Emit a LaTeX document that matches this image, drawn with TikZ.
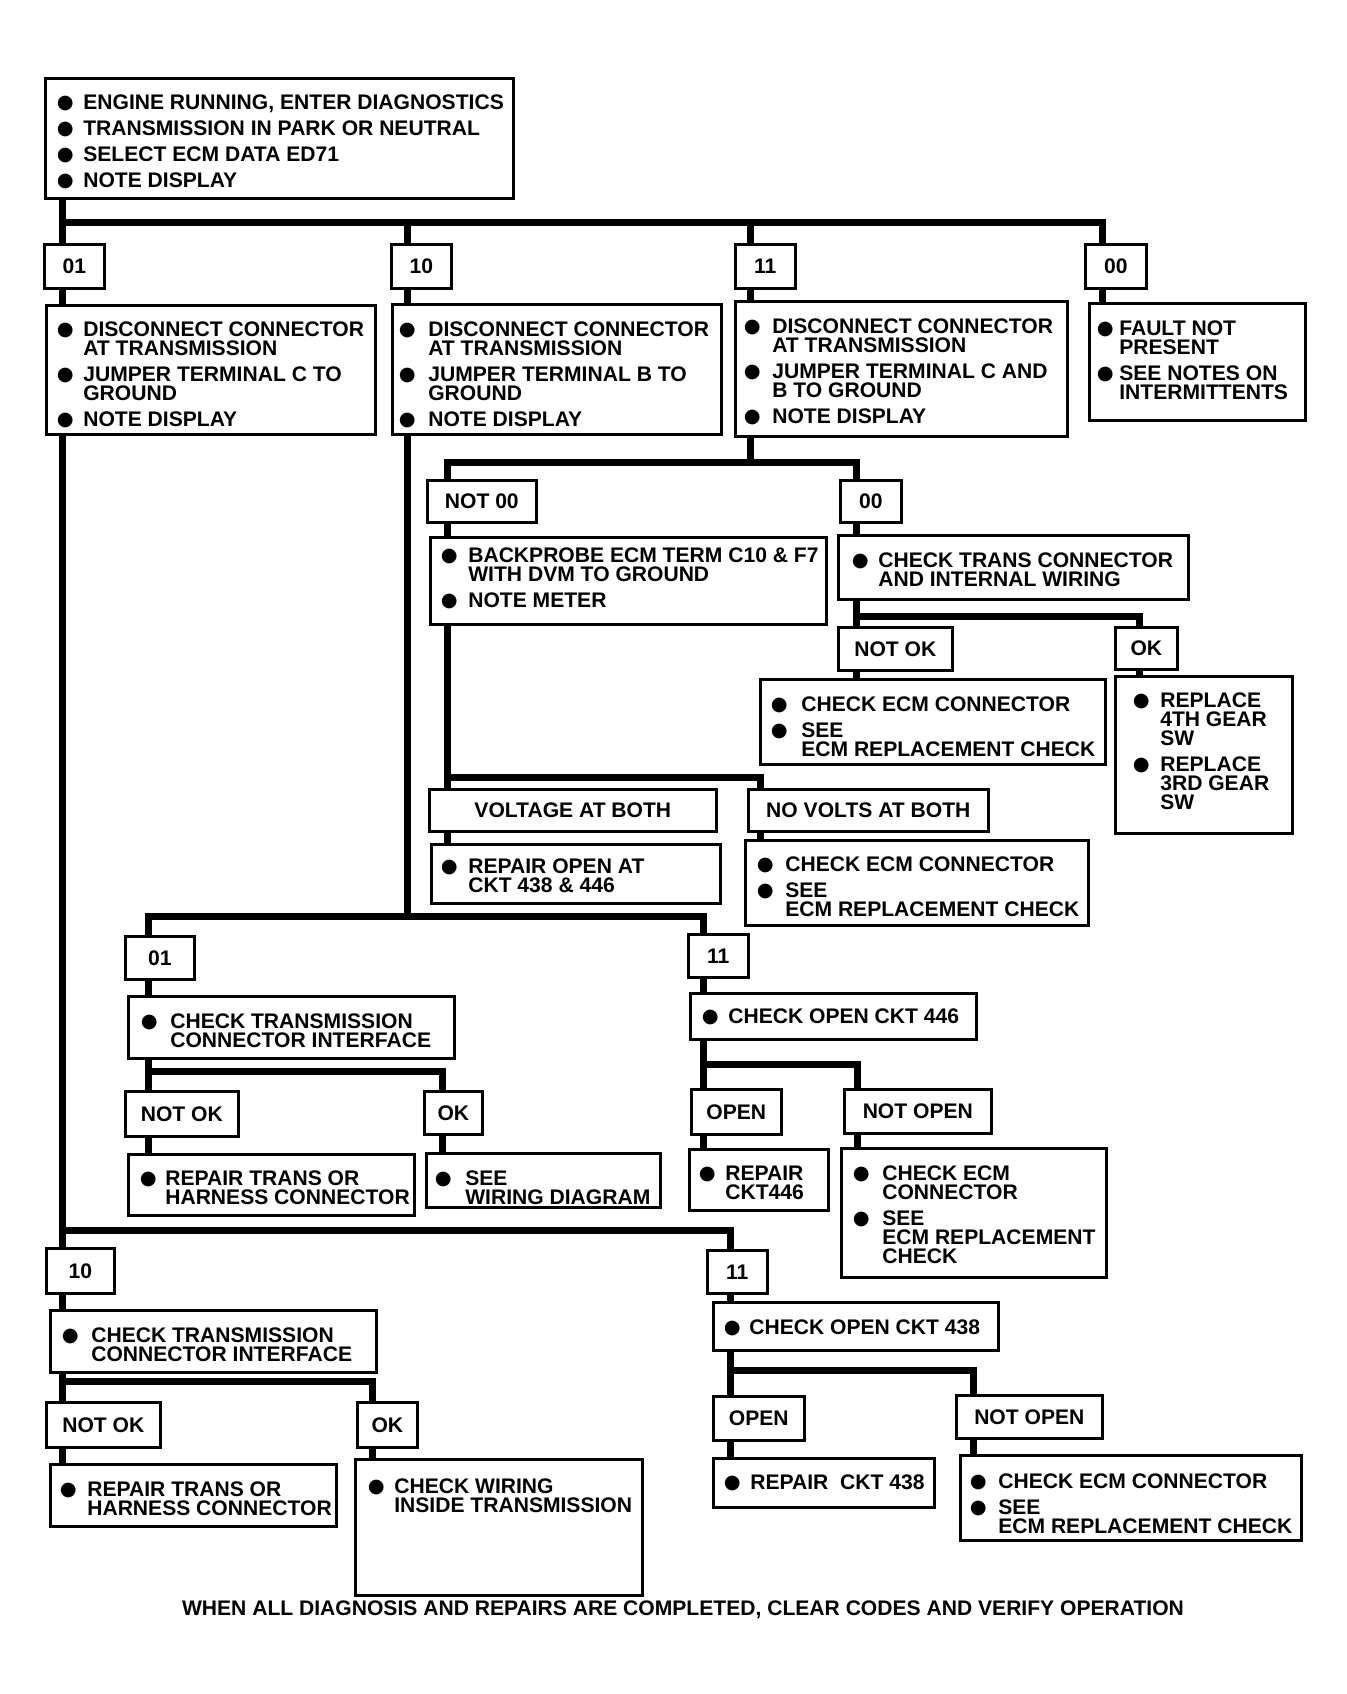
\documentclass[tikz,border=0pt]{standalone}
\usepackage{fontspec}
\setmainfont{Liberation Sans}
\newfontfamily\dejavu{DejaVu Sans}
\usetikzlibrary{backgrounds}
\newcommand\px[1]{\dimexpr0.02cm*#1\relax}
\newlength\bd
\newcommand\bul{\makebox[0pt]{\raisebox{0.4pt}{\dejavu\fontsize{11pt}{11pt}\selectfont ●}}}
\newcommand\bi{\par\vspace{\px{7}}\hangindent=\bd\hangafter=1\noindent\bul\hspace*{\bd}\ignorespaces}
\newcommand\bt[6]{\parbox[c][\px{#2}][t]{\px{#1}}{\fontsize{12pt}{0.38cm}\selectfont\bfseries\setlength\leftskip{\px{#4}}\setlength\rightskip{-3cm plus 1fil}\setlength\parindent{0pt}\setlength\parfillskip{0pt plus 1fil}\setlength\bd{\px{#5}}\vspace*{\dimexpr0.02cm*#3-0.29cm\relax}#6\par}}
\tikzset{
  box/.style={draw, line width=1.5pt, inner sep=0pt, anchor=north west, fill=white},
  lbl/.style={draw, line width=1.5pt, inner sep=0pt, anchor=north west, fill=white,
    font=\bfseries\fontsize{12pt}{14pt}\selectfont},
  conn/.style={line width=0.14cm, line join=miter},
  note/.style={font=\bfseries\fontsize{12pt}{14pt}\selectfont, inner sep=0pt, anchor=base}
}
\newcommand\bx[9]{\node[box] (#1) at (#2,#3) {\bt{#4}{#5}{#6}{#7}{#8}{#9}};}
\newcommand\lab[6]{\node[lbl, minimum width=#4*0.02cm, minimum height=#5*0.02cm] (#1) at (#2,#3) {#6};}
\begin{document}
\begin{tikzpicture}[x=0.02cm, y=-0.02cm]
\useasboundingbox (0,0) rectangle (1346,1694);
% ---------- level 1
\bx{top}{44}{77}{468}{120}{24}{20}{18}{\bi ENGINE RUNNING, ENTER DIAGNOSTICS \bi TRANSMISSION IN PARK OR NEUTRAL \bi SELECT ECM DATA ED71 \bi NOTE DISPLAY}
\lab{b01}{43}{243}{60}{44}{01}
\lab{b10}{390}{243}{60}{44}{10}
\lab{b11}{734}{243}{60}{44}{11}
\lab{b00}{1084}{243}{61}{44}{00}
\bx{c01}{45}{304}{329}{129}{24}{19}{18}{\bi DISCONNECT CONNECTOR\\AT TRANSMISSION \bi JUMPER TERMINAL C TO\\GROUND \bi NOTE DISPLAY}
\bx{c10}{391}{303}{329}{130}{25}{15}{21}{\bi DISCONNECT CONNECTOR\\AT TRANSMISSION \bi JUMPER TERMINAL B TO\\GROUND \bi NOTE DISPLAY}
\bx{c11}{734}{300}{332}{135}{25}{17}{20}{\bi DISCONNECT CONNECTOR\\AT TRANSMISSION \bi JUMPER TERMINAL C AND\\B TO GROUND \bi NOTE DISPLAY}
\bx{c00}{1088}{302}{216}{117}{25}{16}{14}{\bi FAULT NOT\\PRESENT \bi SEE NOTES ON\\INTERMITTENTS}
% ---------- level 2 (under 11)
\lab{n00}{426}{479}{109}{42}{NOT 00}
\lab{o00}{839}{479}{61}{42}{00}
\bx{bp}{429}{536}{396}{87}{18}{19}{19}{\bi BACKPROBE ECM TERM C10 \& F7\\WITH DVM TO GROUND \bi NOTE METER}
\bx{ct}{837}{534}{350}{64}{25}{22}{18}{\bi CHECK TRANS CONNECTOR\\AND INTERNAL WIRING}
\lab{nok}{837}{626}{114}{43}{NOT OK}
\lab{ok1}{1114}{626}{62}{42}{OK}
\bx{ecm1}{759}{678}{345}{85}{25}{19}{22}{\bi CHECK ECM CONNECTOR \bi SEE\\ECM REPLACEMENT CHECK}
\bx{rep}{1114}{675}{177}{157}{24}{26}{19}{\bi REPLACE\\4TH GEAR\\SW \bi REPLACE\\3RD GEAR\\SW}
\lab{vab}{428}{788}{287}{42}{VOLTAGE AT BOTH}
\lab{nv}{747}{788}{240}{42}{NO VOLTS AT BOTH}
\bx{rop}{430}{843}{289}{59}{22}{18}{19}{\bi REPAIR OPEN AT\\CKT 438 \& 446}
\bx{ecm2}{744}{839}{343}{85}{24}{20}{20}{\bi CHECK ECM CONNECTOR \bi SEE\\ECM REPLACEMENT CHECK}
% ---------- level 3 (under 10)
\lab{b01c}{124}{935}{69}{43}{01}
\lab{b11c}{687}{933}{60}{43}{11}
\bx{ct3}{127}{995}{326}{62}{25}{21}{21}{\bi CHECK TRANSMISSION\\CONNECTOR INTERFACE}
\lab{nok3}{124}{1090}{113}{45}{NOT OK}
\lab{ok3}{423}{1090}{58}{43}{OK}
\bx{rt3}{127}{1153}{286}{61}{24}{20}{17}{\bi REPAIR TRANS OR\\HARNESS CONNECTOR}
\bx{sw3}{425}{1152}{234}{54}{25}{17}{22}{\bi SEE\\WIRING DIAGRAM}
\bx{co446}{689}{992}{286}{46}{23}{20}{18}{\bi CHECK OPEN CKT 446}
\lab{op3}{690}{1088}{90}{45}{OPEN}
\lab{nop3}{843}{1088}{147}{44}{NOT OPEN}
\bx{rc446}{688}{1148}{139}{61}{24}{18}{18}{\bi REPAIR\\CKT446}
\bx{ecm3}{840}{1147}{265}{129}{25}{20}{21}{\bi CHECK ECM\\CONNECTOR \bi SEE\\ECM REPLACEMENT\\CHECK}
% ---------- level 4 (under 01)
\lab{b10d}{45}{1247}{68}{45}{10}
\lab{b11d}{706}{1249}{60}{43}{11}
\bx{ct4}{49}{1309}{326}{62}{25}{20}{21}{\bi CHECK TRANSMISSION\\CONNECTOR INTERFACE}
\lab{nok4}{45}{1401}{114}{45}{NOT OK}
\lab{ok4}{356}{1401}{60}{45}{OK}
\bx{rt4}{49}{1463}{286}{62}{25}{18}{19}{\bi REPAIR TRANS OR\\HARNESS CONNECTOR}
\bx{cw}{354}{1458}{287}{136}{27}{21}{18}{\bi CHECK WIRING\\INSIDE TRANSMISSION}
\bx{co438}{712}{1301}{285}{48}{25}{19}{17}{\bi CHECK OPEN CKT 438}
\lab{op4}{712}{1395}{91}{44}{OPEN}
\lab{nop4}{955}{1394}{146}{43}{NOT OPEN}
\bx{rc438}{712}{1457}{221}{49}{24}{19}{18}{\bi REPAIR\ \ CKT 438}
\bx{ecm4}{959}{1454}{341}{85}{26}{18}{20}{\bi CHECK ECM CONNECTOR \bi SEE\\ECM REPLACEMENT CHECK}
\node[note] (final) at (683,1615) {WHEN ALL DIAGNOSIS AND REPAIRS ARE COMPLETED, CLEAR CODES AND VERIFY OPERATION};
% ---------- junction coordinates
\coordinate (vA) at (62,222);   \coordinate (vB) at (407,222);
\coordinate (vC) at (750,222);  \coordinate (vD) at (1102,222);
\coordinate (j2) at (447,462);  \coordinate (j2r) at (856,462);
\coordinate (j3) at (447,777);  \coordinate (j3r) at (760,777);
\coordinate (j4) at (856,616);  \coordinate (j4r) at (1139,616);
\coordinate (j5) at (148,916);  \coordinate (j5r) at (703,916);
\coordinate (j6) at (148,1071); \coordinate (j6r) at (442,1071);
\coordinate (j7) at (703,1064); \coordinate (j7r) at (857,1064);
\coordinate (j8) at (62,1230);  \coordinate (j8r) at (730,1230);
\coordinate (j9) at (62,1381);  \coordinate (j9r) at (372,1381);
\coordinate (j10) at (730,1370);\coordinate (j10r) at (973,1370);
% ---------- connectors
\begin{scope}[on background layer]
\fill[white] (0,0) rectangle (1346,1694);
% level 1
\draw[conn] (top.south -| vA) -- (b01.north -| vA);
\draw[conn] (vA) -- (vD) -- (b00.north -| vD);
\draw[conn] (vB) -- (b10.north -| vB);
\draw[conn] (vC) -- (b11.north -| vC);
\draw[conn] (b01.south -| vA) -- (c01.north -| vA);
\draw[conn] (b10.south -| vB) -- (c10.north -| vB);
\draw[conn] (b11.south -| vC) -- (c11.north -| vC);
\draw[conn] (b00.south -| vD) -- (c00.north -| vD);
% level 2
\draw[conn] (c11.south -| vC) -- (j2 -| vC);
\draw[conn] (n00.north -| j2) -- (j2) -- (j2r) -- (o00.north -| j2r);
\draw[conn] (n00.south -| j2) -- (bp.north -| j2);
\draw[conn] (bp.south -| j3) -- (vab.north -| j3);
\draw[conn] (j3) -- (j3r) -- (nv.north -| j3r);
\draw[conn] (vab.south -| j3) -- (rop.north -| j3);
\draw[conn] (nv.south -| j3r) -- (ecm2.north -| j3r);
\draw[conn] (o00.south -| j2r) -- (ct.north -| j2r);
\draw[conn] (ct.south -| j4) -- (nok.north -| j4);
\draw[conn] (j4) -- (j4r) -- (ok1.north -| j4r);
\draw[conn] (nok.south -| j4) -- (ecm1.north -| j4);
\draw[conn] (ok1.south -| j4r) -- (rep.north -| j4r);
% level 3
\draw[conn] (c10.south -| vB) -- (j5 -| vB);
\draw[conn] (b01c.north -| j5) -- (j5) -- (j5r) -- (b11c.north -| j5r);
\draw[conn] (b01c.south -| j5) -- (ct3.north -| j5);
\draw[conn] (ct3.south -| j6) -- (nok3.north -| j6);
\draw[conn] (j6) -- (j6r) -- (ok3.north -| j6r);
\draw[conn] (nok3.south -| j6) -- (rt3.north -| j6);
\draw[conn] (ok3.south -| j6r) -- (sw3.north -| j6r);
\draw[conn] (b11c.south -| j5r) -- (co446.north -| j5r);
\draw[conn] (co446.south -| j7) -- (op3.north -| j7);
\draw[conn] (j7) -- (j7r) -- (nop3.north -| j7r);
\draw[conn] (op3.south -| j7) -- (rc446.north -| j7);
\draw[conn] (nop3.south -| j7r) -- (ecm3.north -| j7r);
% level 4
\draw[conn] (c01.south -| vA) -- (b10d.north -| vA);
\draw[conn] (j8) -- (j8r) -- (b11d.north -| j8r);
\draw[conn] (b10d.south -| j9) -- (ct4.north -| j9);
\draw[conn] (ct4.south -| j9) -- (nok4.north -| j9);
\draw[conn] (j9) -- (j9r) -- (ok4.north -| j9r);
\draw[conn] (nok4.south -| j9) -- (rt4.north -| j9);
\draw[conn] (ok4.south -| j9r) -- (cw.north -| j9r);
\draw[conn] (b11d.south -| j8r) -- (co438.north -| j8r);
\draw[conn] (co438.south -| j10) -- (op4.north -| j10);
\draw[conn] (j10) -- (j10r) -- (nop4.north -| j10r);
\draw[conn] (op4.south -| j10) -- (rc438.north -| j10);
\draw[conn] (nop4.south -| j10r) -- (ecm4.north -| j10r);
\end{scope}
\end{tikzpicture}
\end{document}
